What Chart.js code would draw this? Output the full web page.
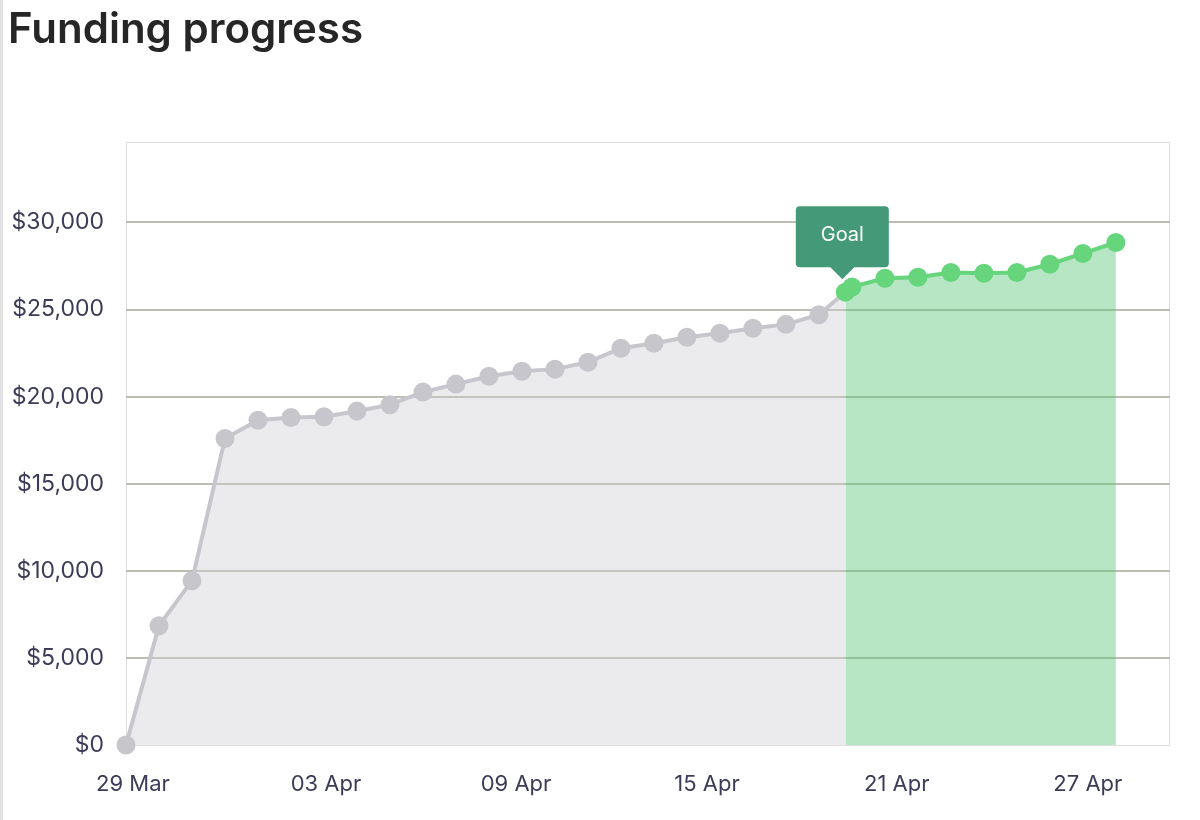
<!DOCTYPE html>
<html>
<head>
<meta charset="utf-8">
<title>Funding progress</title>
<script src="https://cdn.jsdelivr.net/npm/chart.js@4.4.1/dist/chart.umd.min.js"></script>
<style>
  body { margin: 0; background: #fff; }
  #wrap { position: relative; width: 1200px; height: 820px; overflow: hidden; }
  #edge { position: absolute; left: 0; top: 0; width: 3px; height: 820px; background: #e2e2e2; }
  h1 {
    position: absolute; left: 8px; top: 7px; margin: 0;
    font-family: Inter, "Noto Sans", sans-serif; font-weight: 600;
    font-size: 42px; line-height: 42px; color: #262626; z-index: 2;
  }
  canvas { position: absolute; left: 0; top: 0; }
</style>
</head>
<body>
<div id="wrap">
  <div id="edge"></div>
  <h1>Funding progress</h1>
  <canvas id="funding" width="1200" height="820"></canvas>
</div>
<script>
// daily snapshots before the goal was reached (index 0 = 29 Mar)
var daysBefore = [0, 1, 2, 3, 4, 5, 6, 7, 8, 9, 10, 11, 12, 13, 14, 15, 16, 17, 18, 19, 20, 21];
var raisedBefore = [0, 6850, 9430, 17600, 18650, 18800, 18850, 19170, 19540, 20260, 20720, 21170,
                    21460, 21580, 21980, 22780, 23070, 23410, 23640, 23930, 24150, 24700];

// moment the goal was hit
var goalDay = 21.8;
var goalAmount = 26000;

// snapshots after the goal
var daysAfter = [22, 23, 24, 25, 26, 27, 28, 29, 30];
var raisedAfter = [26300, 26800, 26850, 27130, 27080, 27130, 27600, 28220, 28850];

// axis ticks
var tickLabels = ['29 Mar', '03 Apr', '09 Apr', '15 Apr', '21 Apr', '27 Apr'];
var tickDays = [0.21, 6.06, 11.82, 17.61, 23.36, 29.15];
var lastDay = 31.64;
var yTicks = [0, 5000, 10000, 15000, 20000, 25000, 30000];

var grayLine = '#c7c6cc';
var greenLine = '#66d57c';
var tickColor = '#3d3c58';

function toPoints(days, values) {
  return days.map(function(d, i) { return { x: d, y: values[i] }; });
}

var beforeData = toPoints(daysBefore, raisedBefore);
beforeData.push({ x: goalDay, y: goalAmount });
var afterData = [{ x: goalDay, y: goalAmount }].concat(toPoints(daysAfter, raisedAfter));

var topValue = Math.max.apply(null, raisedAfter.concat(raisedBefore)) * 1.2;

// light frame round the plot area
var framePlugin = {
  id: 'frame',
  beforeDraw: function(chart) {
    var a = chart.chartArea, ctx = chart.ctx;
    ctx.save();
    ctx.strokeStyle = '#dedede';
    ctx.lineWidth = 1;
    ctx.strokeRect(a.left + 0.5, a.top + 0.5, a.right - a.left - 1, a.bottom - a.top);
    ctx.restore();
  }
};

// "Goal" flag over the first green point
var goalFlag = {
  id: 'goalFlag',
  afterDatasetsDraw: function(chart) {
    var pt = chart.getDatasetMeta(1).data[0];
    if (!pt) return;
    var ctx = chart.ctx;
    var w = 93, h = 61, r = 4;
    var cx = pt.x - 3;
    var bottom = pt.y - 25;
    var left = cx - w / 2, top = bottom - h;
    ctx.save();
    ctx.fillStyle = '#449a78';
    ctx.beginPath();
    ctx.moveTo(left + r, top);
    ctx.lineTo(left + w - r, top);
    ctx.quadraticCurveTo(left + w, top, left + w, top + r);
    ctx.lineTo(left + w, bottom - r);
    ctx.quadraticCurveTo(left + w, bottom, left + w - r, bottom);
    ctx.lineTo(cx + 12, bottom);
    ctx.lineTo(cx, bottom + 12);
    ctx.lineTo(cx - 12, bottom);
    ctx.lineTo(left + r, bottom);
    ctx.quadraticCurveTo(left, bottom, left, bottom - r);
    ctx.lineTo(left, top + r);
    ctx.quadraticCurveTo(left, top, left + r, top);
    ctx.closePath();
    ctx.fill();
    ctx.fillStyle = '#ffffff';
    ctx.font = '20px Inter, "Noto Sans", sans-serif';
    ctx.textAlign = 'center';
    ctx.textBaseline = 'middle';
    ctx.fillText('Goal', cx, top + h / 2 - 2);
    ctx.restore();
  }
};

var ctx = document.getElementById('funding').getContext('2d');
new Chart(ctx, {
  type: 'line',
  data: {
    datasets: [
      {
        label: 'Raised',
        data: beforeData,
        borderColor: grayLine,
        backgroundColor: 'rgba(205, 205, 212, 0.4)',
        borderWidth: 4,
        fill: 'origin',
        tension: 0,
        clip: false,
        pointRadius: function(c) { return c.dataIndex === beforeData.length - 1 ? 0 : 9.5; },
        pointBackgroundColor: grayLine,
        pointBorderWidth: 0,
        order: 2
      },
      {
        label: 'Raised after goal',
        data: afterData,
        borderColor: greenLine,
        backgroundColor: 'rgba(95, 199, 127, 0.45)',
        borderWidth: 4,
        fill: 'origin',
        tension: 0,
        clip: false,
        pointRadius: 9.5,
        pointBackgroundColor: greenLine,
        pointBorderWidth: 0,
        order: 1
      }
    ]
  },
  options: {
    responsive: false,
    animation: false,
    devicePixelRatio: 1,
    layout: { padding: { left: 0, right: 30, top: 142, bottom: 0 } },
    plugins: {
      legend: { display: false },
      tooltip: { enabled: false }
    },
    scales: {
      x: {
        type: 'linear',
        min: 0,
        max: lastDay,
        grid: { display: false },
        border: { display: false },
        afterBuildTicks: function(scale) {
          scale.ticks = tickDays.map(function(v) { return { value: v }; });
        },
        afterFit: function(scale) { scale.height = 75; },
        ticks: {
          autoSkip: false,
          maxRotation: 0,
          padding: 18,
          color: tickColor,
          font: { family: 'Inter, "Noto Sans", sans-serif', size: 22 },
          callback: function(value, index) { return tickLabels[index]; }
        }
      },
      y: {
        min: 0,
        max: topValue,
        border: { display: false },
        grid: {
          drawTicks: false,
          lineWidth: 2,
          color: function(c) { return c.tick && c.tick.value === 0 ? 'rgba(0,0,0,0)' : '#bcbcb3'; }
        },
        afterBuildTicks: function(scale) {
          scale.ticks = yTicks.map(function(v) { return { value: v }; });
        },
        afterFit: function(scale) { scale.width = 126; },
        ticks: {
          padding: 22,
          color: tickColor,
          font: { family: 'Inter, "Noto Sans", sans-serif', size: 23 },
          callback: function(value) { return '$' + value.toLocaleString('en-US'); }
        }
      }
    }
  },
  plugins: [framePlugin, goalFlag]
});
</script>
</body>
</html>
